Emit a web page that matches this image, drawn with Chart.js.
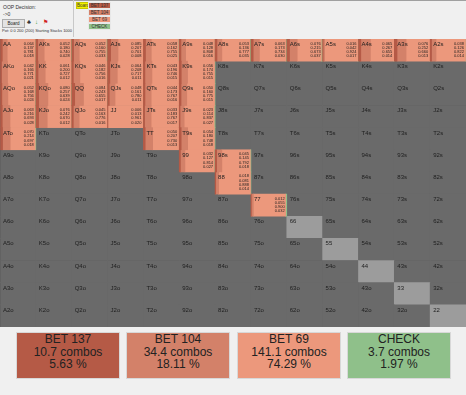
<!DOCTYPE html>
<html>
<head>
<meta charset="utf-8">
<script src="https://cdn.jsdelivr.net/npm/chart.js@4/dist/chart.umd.min.js"></script>
<style>
  html, body { margin: 0; padding: 0; }
  body { width: 466px; height: 395px; background: #f0f0f0; position: relative; overflow: hidden;
         font-family: "Liberation Sans", Arial, sans-serif; color: #222; }
  .topline { position: absolute; left: 0; top: 0; width: 466px; height: 1px; background: #a0a0a0; }
  .sep { position: absolute; left: 73px; top: 0; width: 1px; height: 37px; background: #c8c8c8; }
  .hdr { position: absolute; font-size: 5px; line-height: 6px; color: #333; white-space: nowrap; }
  .btn { position: absolute; left: 2px; top: 19px; width: 21px; height: 7px; background: #e3e3e3;
         border: 1px solid #adadad; font-size: 4.5px; line-height: 7px; text-align: center; }
  .lg { position: absolute; font-size: 4.5px; line-height: 5px; text-align: center; color: #333; }
  #grid-wrap { position: absolute; left: 0; top: 39px; width: 466px; height: 288px; }
  .box { position: absolute; top: 332px; width: 104px; height: 47px; border: 1px solid #d8d8d8;
         box-sizing: border-box; text-align: center; font-size: 12px; line-height: 12.7px; padding-top: 0; color: #222; }
</style>
</head>
<body>
<div class="topline"></div>
<div class="sep"></div>
<div class="hdr" style="left:3px;top:4px;">OOP Decision:</div>
<div class="hdr" style="left:3px;top:11px;">-&gt;0</div>
<div class="btn">Board</div>
<div class="hdr" style="left:27px;top:19px;font-size:6px;">&#9827;</div>
<div class="hdr" style="left:35px;top:19px;font-size:6px;color:#2a9a2a;">&#8595;</div>
<div class="hdr" style="left:43px;top:19px;font-size:6px;color:#d02020;">&#9873;</div>
<div class="hdr" style="left:2px;top:28px;font-size:4px;">Pot: 0 0 200 (200) Starting Stacks 1000</div>
<div id="legend"></div>
<div id="grid-wrap"><canvas id="chart-range"></canvas></div>
<div id="boxes"></div>

<script>
/* ---------- dados ---------- */
const ranks = ['A', 'K', 'Q', 'J', 'T', '9', '8', '7', '6', '5', '4', '3', '2'];
const actions = ['BET 137', 'BET 104', 'BET 69', 'CHECK'];
const combos = [10.7, 34.4, 141.1, 3.7];
const percents = [5.63, 18.11, 74.29, 1.97];

const hands = ['AA', 'AKs', 'AQs', 'AJs', 'ATs', 'A9s', 'A8s', 'A7s', 'A6s', 'A5s', 'A4s', 'A3s', 'A2s',
  'AKo', 'KK', 'KQs', 'KJs', 'KTs', 'K9s',
  'AQo', 'KQo', 'QQ', 'QJs', 'QTs', 'Q9s',
  'AJo', 'KJo', 'QJo', 'JJ', 'JTs', 'J9s',
  'ATo', 'TT', 'T9s',
  '99', '98s', '88', '77'];
const bet137 = [0.064, 0.052, 0.052, 0.085, 0.058, 0.048, 0.053, 0.063, 0.076, 0.016, 0.065, 0.076, 0.038,
  0.042, 0.061, 0.046, 0.064, 0.043, 0.056,
  0.052, 0.080, 0.084, 0.048, 0.044, 0.050,
  0.063, 0.076, 0.045, 0.006, 0.033, 0.023,
  0.070, 0.050, 0.054,
  0.032, 0.045, 0.018, 0.012];
const bet104 = [0.137, 0.180, 0.160, 0.207, 0.162, 0.128, 0.136, 0.173, 0.215, 0.042, 0.267, 0.252, 0.126,
  0.166, 0.200, 0.182, 0.208, 0.196, 0.174,
  0.168, 0.257, 0.243, 0.161, 0.173, 0.160,
  0.216, 0.242, 0.163, 0.013, 0.183, 0.114,
  0.214, 0.207, 0.180,
  0.127, 0.145, 0.081, 0.055];
const bet69 = [0.781, 0.740, 0.755, 0.701, 0.755, 0.808, 0.777, 0.734, 0.673, 0.924, 0.655, 0.660, 0.822,
  0.771, 0.727, 0.756, 0.717, 0.746, 0.755,
  0.756, 0.639, 0.655, 0.780, 0.767, 0.775,
  0.693, 0.670, 0.776, 0.961, 0.767, 0.837,
  0.697, 0.730, 0.748,
  0.814, 0.792, 0.888, 0.900];
const check = [0.018, 0.028, 0.033, 0.008, 0.025, 0.016, 0.035, 0.030, 0.037, 0.017, 0.014, 0.013, 0.014,
  0.021, 0.012, 0.016, 0.011, 0.015, 0.015,
  0.024, 0.024, 0.017, 0.011, 0.016, 0.015,
  0.028, 0.012, 0.016, 0.020, 0.017, 0.027,
  0.018, 0.013, 0.018,
  0.027, 0.018, 0.014, 0.032];
const mutedPairs = ['66', '55', '44', '33', '22'];

/* ---------- estilos ---------- */
const ACTION_COLORS = ['#b55a46', '#d38169', '#ec987c', '#8fc08a'];
const FOLD_GRAY = '#6a6a6a';
const MUTED_GRAY = '#9c9c9c';
const LINE_COLOR = '#3b3b3b';
const FREQS = [bet137, bet104, bet69, check];

function handName(i, j) {
  if (i === j) return ranks[i] + ranks[j];
  if (j > i) return ranks[i] + ranks[j] + 's';
  return ranks[j] + ranks[i] + 'o';
}

/* ---------- legenda e caixas ---------- */
function renderLegend() {
  const tops = [2, 9, 16, 23];
  let html = '<div class="lg" style="left:76px;top:2px;width:11px;height:5px;background:#f2f200;border:1px solid #c8c800;">Board</div>';
  html += actions.map((a, k) => `<div class="lg" style="left:88px;top:${tops[k]}px;width:21px;height:5px;background:${ACTION_COLORS[k]};border:1px solid #e8e8e8;">${a}</div>`).join('');
  document.getElementById('legend').innerHTML = html;
}

function renderBoxes() {
  const lefts = [16, 126, 237, 347];
  document.getElementById('boxes').innerHTML = actions.map((a, k) => `
    <div class="box" style="left:${lefts[k]}px;background:${ACTION_COLORS[k]};">
      ${a}<br>${combos[k].toFixed(1)} combos<br>${percents[k].toFixed(2)} %
    </div>`).join('');
}

/* ---------- grade de mãos ---------- */
function renderRangeChart() {
  const base = [];
  const baseColors = [];
  for (let i = 0; i < 13; i++) {
    for (let j = 0; j < 13; j++) {
      base.push({ x: [j, j + 1], y: ranks[i] });
      baseColors.push(mutedPairs.includes(handName(i, j)) ? MUTED_GRAY : FOLD_GRAY);
    }
  }

  const cells = hands.map(h => {
    for (let i = 0; i < 13; i++) for (let j = 0; j < 13; j++) {
      if (handName(i, j) === h) return { i, j };
    }
  });

  // order menor fica por cima; o fundo cinza vai por baixo
  const actionSets = actions.map((a, k) => ({
    label: a,
    order: 0,
    data: cells.map((c, n) => {
      let start = c.j;
      for (let p = 0; p < k; p++) start += FREQS[p][n];
      return { x: [start, start + FREQS[k][n]], y: ranks[c.i] };
    }),
    backgroundColor: ACTION_COLORS[k]
  }));

  const textPlugin = {
    id: 'handText',
    afterDraw(chart) {
      const { ctx, scales: { x, y } } = chart;
      const rowH = y.getPixelForValue(1) - y.getPixelForValue(0);
      ctx.save();
      ctx.fillStyle = '#1e1e1e';
      ctx.textBaseline = 'alphabetic';
      for (let i = 0; i < 13; i++) {
        for (let j = 0; j < 13; j++) {
          const left = x.getPixelForValue(j);
          const top = y.getPixelForValue(i) - rowH / 2;
          ctx.font = '6px "Liberation Sans", Arial, sans-serif';
          ctx.textAlign = 'left';
          ctx.fillText(handName(i, j), left + 3, top + 7);
        }
      }
      ctx.font = '4px "Liberation Sans", Arial, sans-serif';
      ctx.textAlign = 'right';
      cells.forEach((c, n) => {
        const right = x.getPixelForValue(c.j + 1);
        const top = y.getPixelForValue(c.i) - rowH / 2;
        FREQS.forEach((f, k) => ctx.fillText(f[n].toFixed(3), right - 2, top + 5.5 + k * 4.2));
      });
      ctx.restore();
    }
  };

  new Chart(document.getElementById('chart-range'), {
    type: 'bar',
    data: {
      labels: ranks,
      datasets: [{ label: 'fold', order: 10, data: base, backgroundColor: baseColors }, ...actionSets]
    },
    options: {
      indexAxis: 'y',
      responsive: true, maintainAspectRatio: false, animation: false,
      datasets: { bar: { grouped: false, categoryPercentage: 1, barPercentage: 1, borderWidth: 0 } },
      layout: { padding: 0 },
      plugins: { legend: { display: false }, tooltip: { enabled: false } },
      scales: {
        x: { type: 'linear', min: 0, max: 13, z: 1,
             ticks: { display: false, stepSize: 1 },
             grid: { color: LINE_COLOR, lineWidth: 1, drawTicks: false },
             border: { display: false } },
        y: { z: 1,
             ticks: { display: false },
             grid: { color: LINE_COLOR, lineWidth: 1, drawTicks: false, offset: true },
             border: { display: false } }
      }
    },
    plugins: [textPlugin]
  });
}

renderLegend();
renderBoxes();
renderRangeChart();
</script>
</body>
</html>
